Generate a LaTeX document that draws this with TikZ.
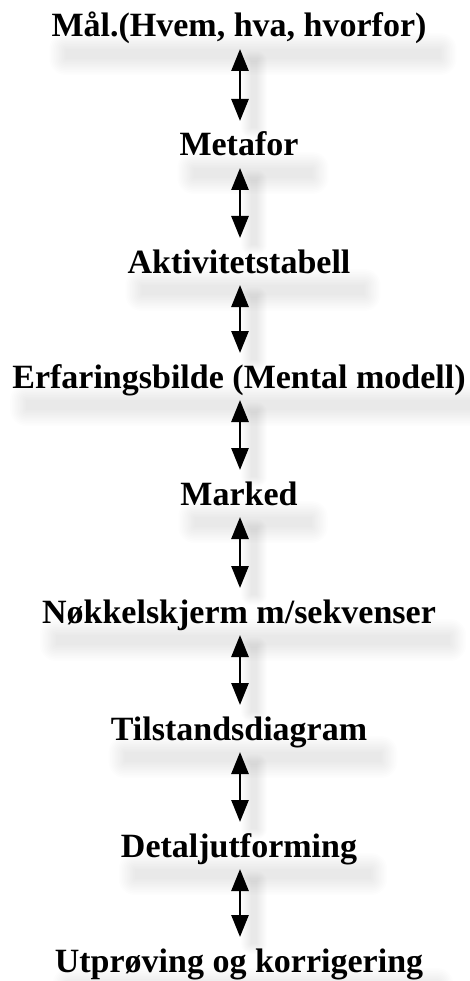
\documentclass[tikz,border=0pt]{standalone}
\usepackage{fontspec}
\setmainfont{Liberation Serif}
\usetikzlibrary{arrows.meta}
\tikzset{
  lbl/.style={font=\bfseries\fontsize{34}{40}\selectfont, inner sep=0pt, anchor=base},
  arr/.style={line width=2.7pt, {Triangle[width=17pt,length=22pt]}-{Triangle[width=17pt,length=22pt]}},
  softlayer/.style={fill=black, fill opacity=0.009, draw=none}
}
\begin{document}
\begin{tikzpicture}[x=1pt,y=-1pt]
\useasboundingbox (0,0) rectangle (469,981);
\node[lbl] (t1) at (239,37) {Mål.(Hvem, hva, hvorfor)};
\node[lbl] (t2) at (239,156) {Metafor};
\node[lbl] (t3) at (239,273) {Aktivitetstabell};
\node[lbl] (t4) at (239,388) {Erfaringsbilde (Mental modell)};
\node[lbl] (t5) at (239,505) {Marked};
\node[lbl] (t6) at (239,623) {Nøkkelskjerm m/sekvenser};
\node[lbl] (t7) at (239,740) {Tilstandsdiagram};
\node[lbl] (t8) at (239,857) {Detaljutforming};
\node[lbl] (t9) at (239,972) {Utprøving og korrigering};
% soft text shadows (stacked translucent layers)
\foreach \t in {t1,t2,t3,t4,t5,t6,t7,t8,t9}{
  \foreach \k [evaluate=\k as \e using 16-1.6*\k] in {0,...,10}{
    \fill[softlayer, rounded corners=\e pt]
      ([xshift=14pt-\e pt, yshift=-12pt+\e pt]\t.base west) rectangle
      ([xshift=14pt+\e pt, yshift=-22pt-\e pt]\t.base east);
  }
}
% soft arrow shadows
\foreach \p/\q in {t1/t2,t2/t3,t3/t4,t4/t5,t5/t6,t6/t7,t7/t8,t8/t9}{
  \foreach \k [evaluate=\k as \e using 10-1*\k] in {0,...,10}{
    \fill[softlayer, rounded corners=\e pt]
      ([xshift=12pt-\e pt, yshift=-24pt+\e pt]\p.base) rectangle
      ([xshift=18pt+\e pt, yshift=28pt-\e pt]\q.base);
  }
}
\foreach \p/\q in {t1/t2,t2/t3,t3/t4,t4/t5,t5/t6,t6/t7,t7/t8,t8/t9}{
  \draw[arr] ([xshift=1pt,yshift=-12pt]\p.base) -- ([xshift=1pt,yshift=35pt]\q.base);
}
\end{tikzpicture}
\end{document}
